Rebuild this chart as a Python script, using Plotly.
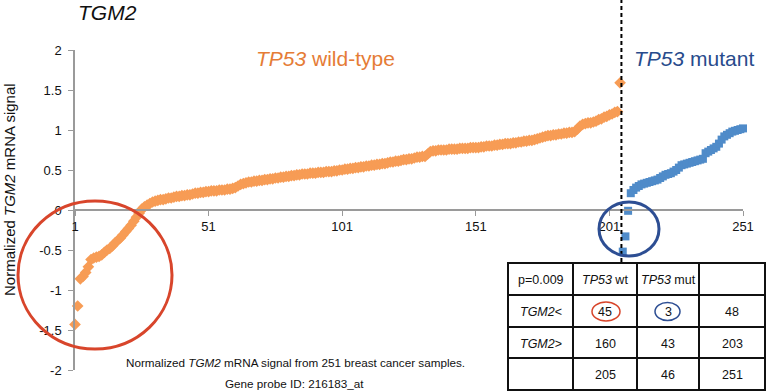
import plotly.graph_objects as go

# ---------------- data ----------------
wt_values = [
    -1.43, -1.20, -0.86, -0.83, -0.78, -0.71, -0.62, -0.60, -0.59, -0.58,
    -0.56, -0.53, -0.50, -0.48, -0.45, -0.41, -0.38, -0.35, -0.31, -0.27,
    -0.23, -0.19, -0.14, -0.09, -0.04, 0.01, 0.04, 0.06, 0.08, 0.10,
    0.11, 0.12, 0.13, 0.13, 0.14, 0.15, 0.15,
    0.16, 0.17, 0.17, 0.18, 0.18, 0.19, 0.19, 0.20, 0.21, 0.21, 0.22,
    0.22, 0.23, 0.23, 0.24, 0.24, 0.24, 0.25, 0.25, 0.25, 0.26, 0.26, 0.27,
    0.28, 0.30, 0.32, 0.33, 0.34, 0.35, 0.35,
    0.36, 0.36, 0.37, 0.37, 0.38, 0.38, 0.39, 0.39, 0.40, 0.40, 0.41, 0.41,
    0.42, 0.42, 0.43, 0.43, 0.44, 0.44,
    0.45, 0.45, 0.45, 0.46, 0.46, 0.46, 0.47, 0.47, 0.47, 0.48, 0.48, 0.48,
    0.49, 0.49, 0.50, 0.50,
    0.51, 0.51, 0.52, 0.52, 0.53, 0.53, 0.54, 0.54, 0.55, 0.55, 0.56, 0.56,
    0.57, 0.57, 0.58, 0.58,
    0.59, 0.60, 0.60, 0.61, 0.61, 0.62, 0.63, 0.63, 0.64, 0.64, 0.65, 0.66,
    0.66, 0.67, 0.67,
    0.70, 0.73, 0.74,
    0.74, 0.75, 0.75, 0.75, 0.75, 0.76, 0.76, 0.76, 0.76, 0.77, 0.77, 0.77,
    0.77, 0.78, 0.78, 0.78,
    0.78, 0.79, 0.79, 0.80, 0.80, 0.80, 0.81, 0.81, 0.82, 0.82, 0.83, 0.83,
    0.83, 0.84, 0.84, 0.85, 0.85, 0.86, 0.86, 0.87, 0.87,
    0.88, 0.89, 0.90, 0.91, 0.92, 0.93,
    0.93, 0.94, 0.94, 0.95, 0.95, 0.96, 0.96, 0.97, 0.97, 0.98,
    1.01, 1.05, 1.07,
    1.08, 1.09, 1.09, 1.10,
    1.11, 1.13, 1.14, 1.16, 1.17, 1.19, 1.20, 1.22, 1.23,
    1.59,
]

mut_values = [
    -0.52, -0.33, -0.01, 0.21,
    0.25, 0.28, 0.30, 0.32,
    0.33, 0.34, 0.35, 0.36, 0.37, 0.38, 0.40, 0.42, 0.44,
    0.45, 0.46, 0.48, 0.50,
    0.53, 0.56, 0.57,
    0.58, 0.59, 0.60, 0.61, 0.62, 0.63,
    0.64, 0.71, 0.73,
    0.75, 0.77, 0.79,
    0.83, 0.88, 0.92,
    0.94, 0.96, 0.98, 0.99, 1.00, 1.01, 1.02,
]

wt_rank = list(range(1, len(wt_values) + 1))
mut_rank = list(range(len(wt_values) + 1, len(wt_values) + len(mut_values) + 1))

x_tick_vals = [1, 51, 101, 151, 201, 251]
y_tick_vals = [-2, -1.5, -1, -0.5, 0, 0.5, 1, 1.5, 2]
y_tick_text = ["-2", "-1.5", "-1", "-0.5", "0", "0.5", "1", "1.5", "2"]

table_rows = [
    ["p=0.009", "<i>TP53</i> wt", "<i>TP53</i> mut", ""],
    ["<i>TGM2</i><", "45", "3", "48"],
    ["<i>TGM2</i>>", "160", "43", "203"],
    ["", "205", "46", "251"],
]

# ---------------- layout helpers (pixel -> paper) ----------------
W, H = 767, 392
ML, MR, MT, MB = 75, 24, 50, 22
PW, PH = W - ML - MR, H - MT - MB


def px(x):
    return (x - ML) / PW


def py(y):
    return (H - MB - y) / PH


FONT = "Liberation Sans, Arial, sans-serif"
ORANGE = "#F79C55"
BLUE = "#4F8BC9"
ORANGE_TXT = "#E57C36"
BLUE_TXT = "#284B8C"
RED_C = "#D8452B"
BLUE_C = "#2D4E93"

fig = go.Figure()
fig.add_trace(go.Scatter(
    x=wt_rank, y=wt_values, mode="markers", cliponaxis=False,
    marker=dict(symbol="diamond", size=9, color=ORANGE, line=dict(width=0)),
    showlegend=False, hoverinfo="skip"))
fig.add_trace(go.Scatter(
    x=mut_rank, y=mut_values, mode="markers", cliponaxis=False,
    marker=dict(symbol="square", size=8, color=BLUE, line=dict(width=0)),
    showlegend=False, hoverinfo="skip"))

shapes = []
# dashed separator
shapes.append(dict(type="line", xref="x", yref="paper",
                   x0=len(wt_values) + 0.5, x1=len(wt_values) + 0.5,
                   y0=py(262), y1=py(0),
                   line=dict(color="#000000", width=2, dash="4px,3px")))
# big circles
shapes.append(dict(type="circle", xref="paper", yref="paper",
                   x0=px(18), x1=px(172), y0=py(349), y1=py(201),
                   line=dict(color=RED_C, width=3)))
shapes.append(dict(type="circle", xref="paper", yref="paper",
                   x0=px(599), x1=px(659), y0=py(256), y1=py(202),
                   line=dict(color=BLUE_C, width=3)))

# table grid
col_edges = [508, 573, 637, 699, 765]
row_edges = [263, 295, 327, 358, 390]
shapes.append(dict(type="rect", xref="paper", yref="paper",
                   x0=px(col_edges[0]), x1=px(col_edges[-1]),
                   y0=py(row_edges[-1]), y1=py(row_edges[0]),
                   fillcolor="white", line=dict(color="#111111", width=2),
                   layer="above"))
for cx in col_edges[1:-1]:
    shapes.append(dict(type="line", xref="paper", yref="paper",
                       x0=px(cx), x1=px(cx), y0=py(row_edges[-1]), y1=py(row_edges[0]),
                       line=dict(color="#111111", width=2)))
for ry in row_edges[1:-1]:
    shapes.append(dict(type="line", xref="paper", yref="paper",
                       x0=px(col_edges[0]), x1=px(col_edges[-1]), y0=py(ry), y1=py(ry),
                       line=dict(color="#111111", width=2)))
# small circles in table
shapes.append(dict(type="circle", xref="paper", yref="paper",
                   x0=px(592), x1=px(620), y0=py(321), y1=py(302),
                   line=dict(color=RED_C, width=1.5)))
shapes.append(dict(type="circle", xref="paper", yref="paper",
                   x0=px(655), x1=px(680), y0=py(320.5), y1=py(302.5),
                   line=dict(color=BLUE_C, width=1.5)))

annotations = []
for r, row in enumerate(table_rows):
    yc = (row_edges[r] + row_edges[r + 1]) / 2 + 1
    for c, txt in enumerate(row):
        if not txt:
            continue
        xc = (col_edges[c] + col_edges[c + 1]) / 2
        annotations.append(dict(xref="paper", yref="paper", x=px(xc), y=py(yc),
                                text=txt, showarrow=False, xanchor="center", yanchor="middle",
                                font=dict(family=FONT, size=12.5, color="#111111")))

annotations += [
    dict(xref="paper", yref="paper", x=px(76), y=py(12), text="<i>TGM2</i>",
         showarrow=False, xanchor="left", yanchor="middle",
         font=dict(family=FONT, size=21, color="#111111")),
    dict(xref="paper", yref="paper", x=px(254), y=py(58), text="<i>TP53</i> wild-type",
         showarrow=False, xanchor="left", yanchor="middle",
         font=dict(family=FONT, size=21, color=ORANGE_TXT)),
    dict(xref="paper", yref="paper", x=px(632), y=py(58), text="<i>TP53</i> mutant",
         showarrow=False, xanchor="left", yanchor="middle",
         font=dict(family=FONT, size=21, color=BLUE_TXT)),
    dict(xref="paper", yref="paper", x=px(9), y=py(190),
         text="Normalized <i>TGM2</i> mRNA signal", textangle=-90,
         showarrow=False, xanchor="center", yanchor="middle",
         font=dict(family=FONT, size=15, color="#111111")),
    dict(xref="paper", yref="paper", x=px(295), y=py(362),
         text="Normalized <i>TGM2</i> mRNA signal from 251 breast cancer samples.",
         showarrow=False, xanchor="center", yanchor="middle",
         font=dict(family=FONT, size=11.7, color="#111111")),
    dict(xref="paper", yref="paper", x=px(294), y=py(383),
         text="Gene probe ID: 216183_at",
         showarrow=False, xanchor="center", yanchor="middle",
         font=dict(family=FONT, size=11.7, color="#111111")),
]

fig.update_layout(
    width=W, height=H,
    margin=dict(l=ML, r=MR, t=MT, b=MB, pad=0),
    paper_bgcolor="white", plot_bgcolor="white",
    font=dict(family=FONT, size=13, color="#111111"),
    shapes=shapes, annotations=annotations,
    xaxis=dict(range=[1, 251], tickvals=x_tick_vals, ticktext=[str(v) for v in x_tick_vals],
               showgrid=False, zeroline=False, showline=True, linecolor="#9A9A9A", linewidth=1.5,
               ticks="outside", ticklen=5, tickcolor="#9A9A9A", tickwidth=1,
               anchor="free", position=0.5,
               tickfont=dict(family=FONT, size=13, color="#111111")),
    yaxis=dict(range=[-2, 2], tickvals=y_tick_vals, ticktext=y_tick_text,
               showgrid=False, zeroline=False, showline=True, linecolor="#9A9A9A", linewidth=1.5,
               ticks="outside", ticklen=5, tickcolor="#9A9A9A", tickwidth=1,
               ticklabelstandoff=4,
               tickfont=dict(family=FONT, size=13, color="#111111")),
)

fig.write_html("out.html", config={"displayModeBar": False},
               post_script="document.body.style.margin='0';document.body.style.overflow='hidden';")
